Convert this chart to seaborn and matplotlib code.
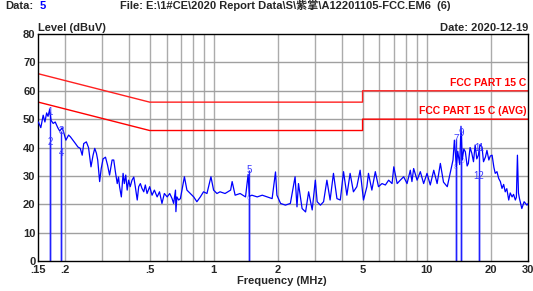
import numpy as np
import pandas as pd
import seaborn as sns
import matplotlib
matplotlib.use("Agg")
import matplotlib.pyplot as plt

# spectrum trace (MHz, dBuV)
freq = [0.150, 0.154, 0.158, 0.161, 0.164, 0.1665, 0.1694, 0.172, 0.176, 0.180,
        0.185, 0.189, 0.194, 0.197, 0.202, 0.208, 0.212, 0.218, 0.224, 0.230,
        0.236, 0.241, 0.245, 0.252, 0.258, 0.265, 0.271, 0.276, 0.281, 0.285,
        0.291, 0.296, 0.302, 0.310, 0.317, 0.324, 0.333, 0.339, 0.345, 0.352,
        0.357, 0.361, 0.368, 0.375, 0.380, 0.386, 0.392, 0.398, 0.405, 0.413,
        0.421, 0.428, 0.437, 0.444, 0.452, 0.460, 0.469, 0.477, 0.486, 0.500,
        0.513, 0.526, 0.542, 0.556, 0.571, 0.586, 0.604, 0.621, 0.637, 0.648,
        0.661, 0.664, 0.671, 0.684, 0.697,
        0.728, 0.748, 0.776, 0.805, 0.833, 0.865, 0.895, 0.929, 0.970, 0.998,
        1.035, 1.07, 1.13, 1.20, 1.22, 1.26, 1.33, 1.41, 1.45, 1.47,
        1.51, 1.60, 1.69, 1.78, 1.88, 1.95, 1.98, 2.06, 2.17, 2.29,
        2.41, 2.46, 2.50, 2.60, 2.70, 2.79, 2.90, 3.00, 3.06, 3.17,
        3.28, 3.40, 3.52, 3.65, 3.79, 3.93, 4.07, 4.22, 4.37, 4.53,
        4.70, 4.87,
        5.05, 5.24, 5.33, 5.53, 5.74, 5.94, 6.17, 6.40, 6.63, 6.88,
        7.01, 7.27, 7.52, 7.80, 8.09, 8.38, 8.53, 8.69, 9.02, 9.34,
        9.68, 10.04, 10.4, 10.8, 11.2, 11.6, 12.0, 12.5, 12.9, 13.3,
        13.5, 13.8, 14.0, 14.3, 14.5, 14.7, 14.95, 15.2, 15.5, 15.7,
        16.0, 16.3, 16.6, 16.9, 17.2, 17.5, 17.8, 18.2, 18.5, 18.9,
        19.2, 19.6, 19.9, 20.3, 20.7, 21.0, 21.4, 21.8, 22.2, 22.6,
        23.0, 23.4, 23.8, 24.3, 24.7, 25.2, 25.6, 26.1, 26.4, 26.7,
        27.0, 27.3, 28.0, 28.7, 29.6, 30.0]
level = [49, 47, 51.4, 49, 52.2, 51, 53.4, 49.6, 48.5, 49,
         47, 45.8, 47, 45.5, 42.6, 44.4, 43.8, 42.6, 41.4, 40.2,
         39.7, 37.3, 41.4, 42, 40, 33.2, 37.3, 39.7, 38, 35.6,
         28, 32.6, 36, 36.6, 33.8, 30.3, 35.6, 35.6, 31.5, 27.3,
         29.6, 26.2, 22.6, 30.9, 27.3, 30.3, 25, 28.5, 26.2, 28.5,
         29.6, 26.2, 21.5, 26.2, 27.3, 25.6, 24.4, 26.8, 23.8, 26.2,
         23.2, 25, 22.6, 24.4, 20.3, 23.8, 22.6, 23.8, 22, 20.3,
         25, 17.4, 22.6, 21.5, 22,
         29.7, 25, 23.8, 22.6, 20.9, 22.6, 24.4, 23.8, 29.7, 25,
         23.8, 24.4, 23.8, 25, 28, 23.2, 23.8, 22.6, 30.5, 22.8,
         23.2, 22.6, 23.2, 22.6, 22, 31.4, 23.2, 20.3, 19.7, 20.3,
         29.7, 19.1, 27.3, 18.5, 17.3, 24.4, 18, 28.5, 20.9, 19.7,
         20.9, 28.5, 21.5, 30.9, 22, 21.5, 31.5, 23.2, 30.9, 24.4,
         26.2, 32,
         21.5, 26.2, 30.9, 25, 31.5, 26.2, 27.3, 26.8, 28.5, 27.3,
         33.2, 27.3, 28.5, 29.7, 27.3, 32, 28, 32.6, 28.5, 31.5,
         27.3, 30.9, 26.8, 32, 27.3, 34.4, 27.8, 26.2, 30.9, 35.6,
         42.6, 33.2, 38.7, 34, 47.5, 35.6, 39.5, 38.5, 33.5, 34.4,
         40, 38, 35, 40.9, 36, 37.3, 41, 40.2, 35, 36.7,
         39, 35.6, 37, 37.3, 33, 30.9, 31.5, 29.1, 28, 25.6,
         27, 24.4, 25.5, 21.5, 24, 22.6, 23.5, 21.5, 22.5, 37.3,
         24, 22, 18.5, 20.9, 19.7, 20.3]

# limit lines
qp_freq = [0.15, 0.5, 5, 5, 30]
qp_level = [66, 56, 56, 60, 60]
avg_freq = [0.15, 0.5, 5, 5, 30]
avg_level = [56, 46, 46, 50, 50]

# markers (6, 8, 10 sit under the trace in the original)
mk_label = ["1", "2", "3", "4", "5", "6", "7", "8", "9", "10", "11", "12"]
mk_freq = [0.171, 0.171, 0.192, 0.192, 1.46, 1.46, 13.7, 13.7, 14.5, 14.5, 17.6, 17.6]
mk_level = [52.5, 42, 46, 38, 32, 22, 43, 33, 45, 35, 40, 30]
mk_hidden = ["6", "8", "10"]

xticks = [0.15, 0.2, 0.5, 1, 2, 5, 10, 20, 30]
xtick_labels = [".15", ".2", ".5", "1", "2", "5", "10", "20", "30"]
xminor = [0.3, 0.4, 0.6, 0.7, 0.8, 0.9, 3, 4, 6, 7, 8, 9]

sns.set_style("white")
plt.rcParams['font.family'] = ['Liberation Sans', 'Noto Sans CJK SC', 'DejaVu Sans']

fig = plt.figure(figsize=(5.33, 2.91), dpi=100)
ax = fig.add_axes([0.072, 0.103, 0.919, 0.78])

df = pd.DataFrame({"freq": freq, "level": level})

ax.set_xscale("log")
ax.set_xlim(0.15, 30)
ax.set_ylim(0, 80)

# grid
for f in xticks[1:-1] + xminor:
    ax.axvline(f, color="#ababab", lw=1, zorder=0)
for y in range(10, 80, 10):
    ax.axhline(y, color="#a0a0a0", lw=1, zorder=0)

# limits
ax.plot(qp_freq, qp_level, color="#ff2020", lw=1)
ax.plot(avg_freq, avg_level, color="#ff0000", lw=1)
ax.text(29.3, 61, "FCC PART 15 C", color="red", fontsize=7.5, fontweight="bold",
        ha="right", va="bottom")
ax.text(29.3, 51, "FCC PART 15 C (AVG)", color="red", fontsize=7.5, fontweight="bold",
        ha="right", va="bottom")

# markers
ax.vlines(mk_freq, 0, mk_level, color="#2020ff", lw=1, zorder=1)
for lab, f, v in zip(mk_label, mk_freq, mk_level):
    if lab in mk_hidden:
        ax.text(f, v, lab, color="#3a3aff", fontsize=5, ha="center", va="center",
                zorder=1, alpha=0.5)
    else:
        ax.text(f, v, lab, color="#3a3aff", fontsize=7, ha="center", va="center",
                zorder=4)

sns.lineplot(data=df, x="freq", y="level", color="#0000ff", lw=0.9,
             estimator=None, sort=False, ax=ax, zorder=3)

ax.set_xticks(xticks)
ax.set_xticklabels(xtick_labels)
ax.set_xticks([], minor=True)
ax.set_yticks(range(0, 90, 10))
ax.tick_params(axis="y", length=0, pad=2, labelsize=8)
ax.tick_params(axis="x", length=0, pad=3, labelsize=8)
for lab in ax.get_xticklabels() + ax.get_yticklabels():
    lab.set_fontweight("bold")
ax.set_xlabel("")
ax.set_ylabel("")
for s in ax.spines.values():
    s.set_color("black")
    s.set_linewidth(1)

fig.text(0.529, 0.025, "Frequency (MHz)", ha="center", va="baseline",
         fontsize=8, fontweight="bold")
fig.text(0.072, 0.895, "Level (dBuV)", ha="left", va="baseline",
         fontsize=8, fontweight="bold")
fig.text(0.991, 0.895, "Date: 2020-12-19", ha="right", va="baseline",
         fontsize=8, fontweight="bold")
fig.text(0.01, 0.968, "Data:", ha="left", va="baseline", fontsize=8, fontweight="bold")
fig.text(0.075, 0.968, "5", ha="left", va="baseline", fontsize=8, fontweight="bold",
         color="blue")
fig.text(0.225, 0.968, "File: E:\\1#CE\\2020 Report Data\\S\\紫掌\\A12201105-FCC.EM6  (6)",
         ha="left", va="baseline", fontsize=8, fontweight="bold")

fig.savefig("out.png", dpi=100)
